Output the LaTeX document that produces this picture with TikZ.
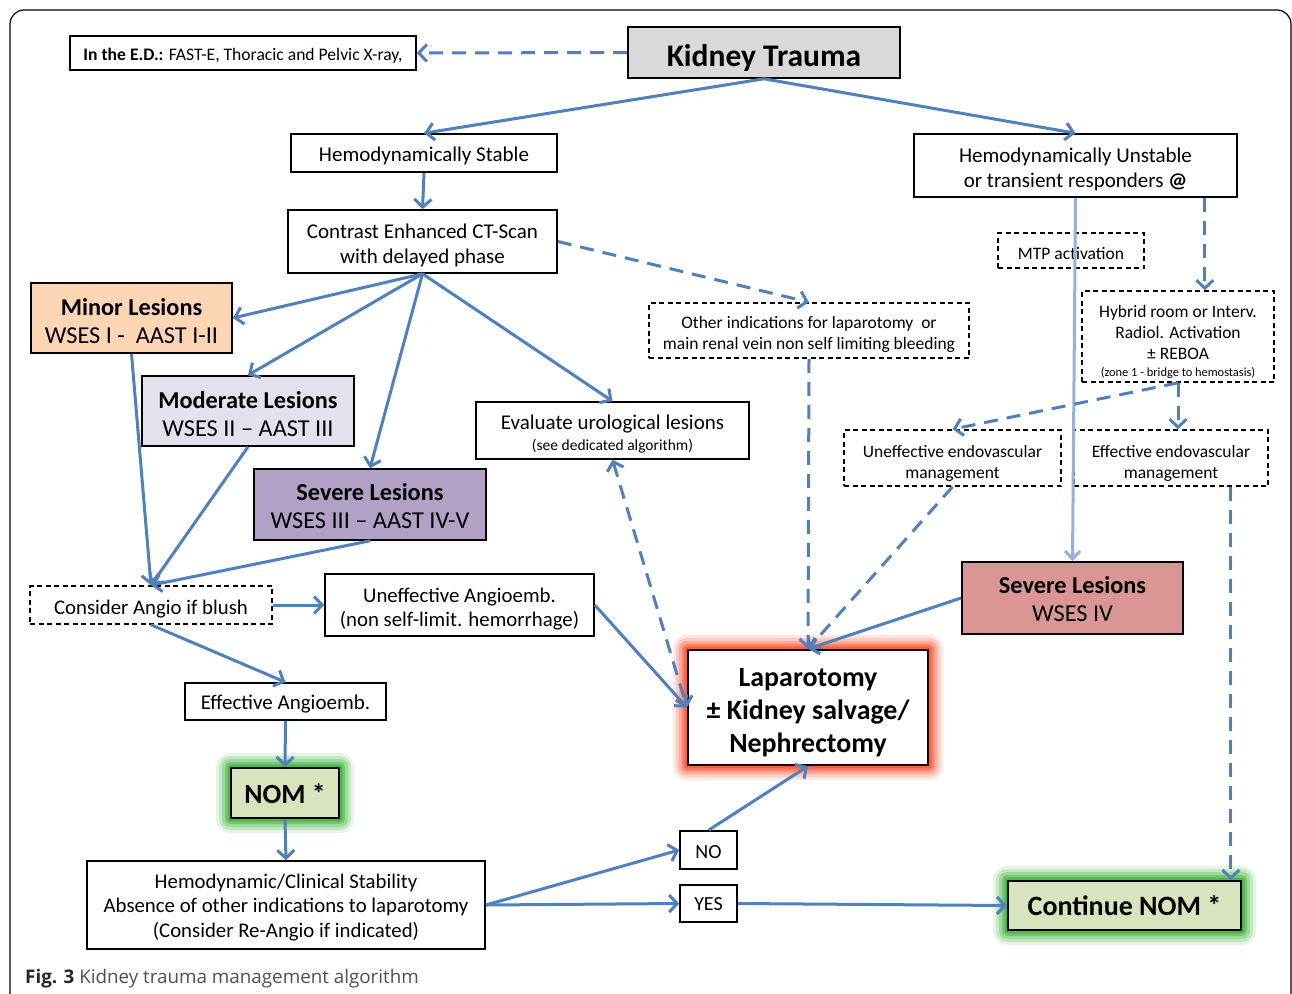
\documentclass[tikz,border=0pt]{standalone}
\usepackage{fontspec}
\setmainfont{Carlito}
\newfontfamily\capfont{Open Sans}
\usetikzlibrary{arrows.meta,calc,backgrounds}
\definecolor{ablue}{HTML}{4F81BD}
\definecolor{lblue}{HTML}{95B3D7}
\definecolor{ktgray}{HTML}{D9D9D9}
\definecolor{minorc}{HTML}{FCD5B4}
\definecolor{modc}{HTML}{E5E0EC}
\definecolor{sev3c}{HTML}{B2A1C7}
\definecolor{sev4c}{HTML}{D99694}
\definecolor{nomc}{HTML}{D7E4BD}
\definecolor{glowred}{HTML}{FF4A24}
\definecolor{glowgreen}{HTML}{34B030}
\definecolor{capgray}{HTML}{505050}
\tikzset{
  box/.style={draw=black, line width=1.6pt, inner sep=0pt, fill=white},
  dbox/.style={box, dash pattern=on 5pt off 3.5pt},
  txt/.style={align=center, inner sep=0pt},
  arr/.style={draw=ablue, line width=3pt, -{Straight Barb[length=8pt,width=17pt]}},
  darr/.style={arr, dash pattern=on 14pt off 9pt},
  larr/.style={draw=lblue, line width=3pt, -{Straight Barb[length=8pt,width=15pt,color=lblue]}},
}
\newcommand{\fsz}[2]{\fontsize{#1}{#2}\selectfont}
% #1 style, #2 name, #3 center, #4 width, #5 height, #6 font, #7 text shift, #8 text
\newcommand{\bx}[8]{%
  \node[#1, minimum width=#4pt, minimum height=#5pt] (#2) at (#3) {};
  \node[txt, font=#6] (#2-t) at ($(#2)+(0,#7)$) {#8};}
\newcommand{\glowbox}[2]{%
  \foreach \r/\o in {14/0.12,11/0.18,8/0.26,5/0.4,2.5/0.6}{%
    \fill[#2,opacity=\o,rounded corners=\r pt] ($(#1.south west)+(-\r,\r)$) rectangle ($(#1.north east)+(\r,-\r)$);
  }}
\begin{document}
\begin{tikzpicture}[x=1pt,y=-1pt]
\useasboundingbox (0,0) rectangle (1292,993);
\draw[line width=1.2pt, rounded corners=14pt] (10,1000) -- (10,10) -- (1291,10) -- (1291,1000);

% boxes
\bx{box}{ed}{243,53}{346}{34}{\fsz{17.6}{21}}{3}{{\bfseries In the E.D.:} FAST-E, Thoracic and Pelvic X-ray,}
\bx{box, fill=ktgray}{kt}{764,52.5}{272}{51}{\fsz{31.5}{38}\bfseries}{5}{Kidney Trauma}
\bx{box}{hs}{424,153}{266}{38}{\fsz{21}{25}}{3}{Hemodynamically Stable}
\bx{box}{hu}{1075.5,165.5}{323}{63}{\fsz{21}{25}}{3.5}{Hemodynamically Unstable\\or transient responders {\bfseries @}}
\bx{box}{ct}{422.5,241.5}{269}{63}{\fsz{21}{25}}{3.5}{Contrast Enhanced CT-Scan\\with delayed phase}
\bx{box, fill=minorc}{minor}{131.5,318}{201}{70}{\fsz{24.3}{28}}{3}{{\bfseries Minor Lesions}\\WSES I -\ \ AAST I-II}
\bx{box, fill=modc}{mod}{248,411}{212}{70}{\fsz{24.3}{28}}{3}{{\bfseries Moderate Lesions}\\WSES II – AAST III}
\bx{box, fill=sev3c}{sev3}{370,504.5}{232}{71}{\fsz{24.3}{28}}{2}{{\bfseries Severe Lesions}\\WSES III – AAST IV-V}
\bx{dbox}{other}{809,330.5}{320}{55}{\fsz{17.5}{21}}{4}{Other indications for laparotomy\ \ or\\main renal vein non self limiting bleeding}
\bx{box}{eval}{612.5,430.5}{273}{57}{\fsz{21}{21}}{4}{Evaluate urological lesions\\{\fsz{15.5}{18}(see dedicated algorithm)}}
\bx{dbox}{mtp}{1071,250.5}{146}{35}{\fsz{17.5}{21}}{3}{MTP activation}
\bx{dbox}{hyb}{1178,336.5}{192}{91}{\fsz{17.5}{21}}{5}{Hybrid room or Interv.\\Radiol. Activation\\± REBOA\\[-4pt]{\fsz{12.4}{14}(zone 1 - bridge to hemostasis)}}
\bx{dbox}{unendo}{952.5,458}{217}{56}{\fsz{17.5}{21}}{5}{Uneffective endovascular\\management}
\bx{dbox}{effendo}{1171,458}{194}{56}{\fsz{17.5}{21}}{5}{Effective endovascular\\management}
\bx{box, fill=sev4c}{sev4}{1072.5,598}{221}{72}{\fsz{24.3}{28}}{1.5}{{\bfseries Severe Lesions}\\WSES IV}
\bx{dbox}{cons}{151,605}{242}{38}{\fsz{20.8}{24}}{4}{Consider Angio if blush}
\bx{box}{unang}{459.5,605}{269}{62}{\fsz{20.8}{24}}{4}{Uneffective Angioemb.\\(non self-limit. hemorrhage)}
\bx{box, line width=2.2pt}{lap}{808,707.5}{240}{115}{\fsz{27.9}{33}\bfseries}{5}{Laparotomy\\± Kidney salvage/\\Nephrectomy}
\bx{box}{effang}{285.5,701.5}{201}{37}{\fsz{21}{24}}{3}{Effective Angioemb.}
\bx{box, fill=nomc, line width=2pt}{nom}{285,793}{108}{50}{\fsz{27.7}{32}\bfseries}{1}{NOM *}
\bx{box}{hc}{286,905}{398}{88}{\fsz{20.8}{24.5}}{2.5}{Hemodynamic/Clinical Stability\\Absence of other indications to laparotomy\\(Consider Re-Angio if indicated)}
\bx{box}{no}{708.5,850}{57}{38}{\fsz{20}{24}}{2}{NO}
\bx{box}{yes}{708.5,903.5}{57}{37}{\fsz{20}{24}}{1}{YES}
\bx{box, fill=nomc, line width=2pt}{cnom}{1124.5,905.5}{233}{49}{\fsz{28}{32}\bfseries}{0.5}{Continue NOM *}

\node[anchor=base west, inner sep=0pt, text=capgray, font=\capfont\fsz{18.8}{22}] (cap) at (25,983) {{\color{black!85}\bfseries Fig. 3} Kidney trauma management algorithm};

\begin{scope}[on background layer]
\fill[white] (0,0) rectangle (1292,993);
\glowbox{lap}{glowred}
\glowbox{nom}{glowgreen}
\glowbox{cnom}{glowgreen}
\end{scope}

% helper coordinates
\coordinate (hu1) at ($(hu.south east)+(-33,0)$);
\coordinate (ee1) at ($(effendo.south east)+(-38,0)$);

% connectors
\draw[darr] (kt.west) -- (ed.east);
\draw[arr] (kt.south) -- (hs.north);
\draw[arr] (kt.south) -- (hu.north);
\draw[arr] (hs.south) -- (ct.north);
\draw[arr] (ct.south) -- (minor.east);
\draw[arr] (ct.south) -- (mod.north);
\draw[arr] (ct.south) -- (sev3.north);
\draw[arr] (ct.south) -- (eval.north);
\draw[darr] (ct.east) -- (other.north);
\draw[darr] (other.south) -- (lap.north);
\draw[larr] (hu.south) -- (sev4.north);
\draw[darr] (hu1) -- (hu1 |- hyb.north);
\draw[darr] (hyb.south) -- (unendo.north);
\draw[darr] (hyb.south) -- (hyb.south |- effendo.north);
\draw[darr] (unendo.south) -- (lap.north);
\draw[darr] (ee1) -- (ee1 |- cnom.north);
\draw[arr] (sev4.west) -- (lap.north);
\draw[arr] (minor.south) -- (cons.north);
\draw[arr] (mod.south) -- (cons.north);
\draw[arr] (sev3.south) -- (cons.north);
\draw[arr] (cons.east) -- (unang.west);
\draw[arr] (cons.south) -- (effang.north);
\draw[arr] (unang.east) -- (lap.west);
\draw[darr, {Straight Barb[length=8pt,width=17pt]}-{Straight Barb[length=8pt,width=17pt]}] (eval.south) -- (lap.west);
\draw[arr] (effang.south) -- (nom.north);
\draw[arr] (nom.south) -- (hc.north);
\draw[arr] (hc.east) -- (no.west);
\draw[arr] (hc.east) -- (yes.west);
\draw[arr] (no.north) -- (lap.south);
\draw[arr] (yes.east) -- (cnom.west);
\end{tikzpicture}
\end{document}
